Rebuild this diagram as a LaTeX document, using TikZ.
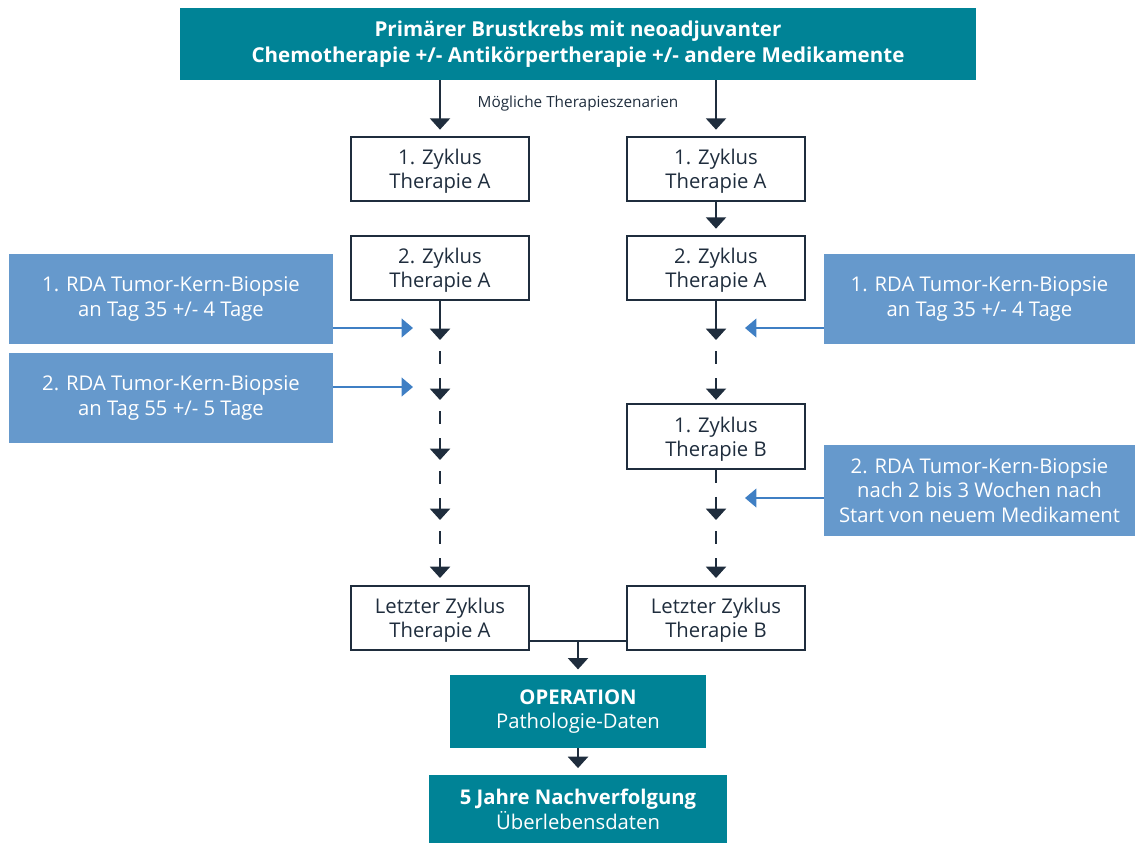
\documentclass[tikz,border=0pt]{standalone}
\usepackage{fontspec}
\setmainfont{Open Sans}
\usepackage{tikz}
\usetikzlibrary{arrows.meta, calc, positioning}
\definecolor{teal}{RGB}{0,131,150}
\definecolor{rdablue}{RGB}{102,153,204}
\definecolor{pointer}{RGB}{63,127,196}
\definecolor{navy}{RGB}{31,45,61}
\tikzstyle{head} = [rectangle, fill=teal, text=white, align=center, inner sep=0pt, font=\fontsize{15.4}{19.5}\selectfont\bfseries]
\tikzstyle{zyklus} = [rectangle, draw=navy, line width=1.5pt, text=navy, align=center, minimum width=134pt, minimum height=48.5pt, inner sep=0pt, text depth=0pt, font=\fontsize{15.2}{18.2}\selectfont]
\tikzstyle{rda} = [rectangle, fill=rdablue, text=white, align=center, minimum width=243pt, minimum height=67.5pt, inner sep=0pt, font=\fontsize{15.2}{18.2}\selectfont]
\tikzstyle{final} = [rectangle, fill=teal, text=white, align=center, inner sep=0pt, font=\fontsize{15.2}{18.5}\selectfont]
\tikzstyle{arrow} = [navy, line width=1.6pt, -{Triangle[width=15pt,length=8.5pt]}]
\tikzstyle{dasharrow} = [arrow, dash pattern=on 9.75pt off 10.5pt, dash phase=12pt]
\tikzstyle{biopsy} = [pointer, line width=1.3pt, -{Triangle[width=14pt,length=8.5pt]}]
\tikzstyle{junction} = [navy, line width=1.6pt]

\begin{document}
\begin{tikzpicture}[x=0.75pt, y=-0.75pt]
		\useasboundingbox (0,0) rectangle (1135,843);
		\node (Primary) [head, minimum width=597pt, minimum height=54pt] at (578,44) {Primärer Brustkrebs mit neoadjuvanter\\Chemotherapie +/- Antikörpertherapie +/- andere Medikamente};
		\node (Scenarios) [text=navy, font=\fontsize{11.5}{13}\selectfont] at (578,104) {Mögliche Therapieszenarien};
		\node (CycleOneA) [zyklus] at (440,169) {1. Zyklus\\Therapie A};
		\node (CycleOneB) [zyklus] at (716,169) {1. Zyklus\\Therapie A};
		\node (CycleTwoA) [zyklus] at (440,268) {2. Zyklus\\Therapie A};
		\node (CycleTwoB) [zyklus] at (716,268) {2. Zyklus\\Therapie A};
		\node (NewDrug) [zyklus] at (716,436.5) {1. Zyklus\\Therapie B};
		\node (LastA) [zyklus] at (440,618) {Letzter Zyklus\\Therapie A};
		\node (LastB) [zyklus] at (716,618) {Letzter Zyklus\\Therapie B};
		\node (RdaLeftOne) [rda] at (171,299) {1. RDA Tumor-Kern-Biopsie\\an Tag 35 +/- 4 Tage};
		\node (RdaLeftTwo) [rda] at (171,398) {2. RDA Tumor-Kern-Biopsie\\an Tag 55 +/- 5 Tage};
		\node (RdaRightOne) [rda, minimum width=233.25pt] at (979.5,299) {1. RDA Tumor-Kern-Biopsie\\an Tag 35 +/- 4 Tage};
		\node (RdaRightTwo) [rda, minimum width=233.25pt, minimum height=68.25pt] at (979.5,490.5) {2. RDA Tumor-Kern-Biopsie\\nach 2 bis 3 Wochen nach\\Start von neuem Medikament};
		\node (Operation) [final, minimum width=192pt, minimum height=54.75pt] at (578,711.5) {\textbf{OPERATION}\\Pathologie-Daten};
		\node (FollowUp) [final, minimum width=223.5pt, minimum height=51pt] at (578,809) {\textbf{5 Jahre Nachverfolgung}\\Überlebensdaten};
		\coordinate (TipA1) at (440,340);
		\coordinate (TipA2) at (440,400);
		\coordinate (TipA3) at (440,460);
		\coordinate (TipA4) at (440,520);
		\coordinate (TipB1) at (716,340);
		\coordinate (TipB2) at (716,520);
		\coordinate (InLeftOne) at (413,328);
		\coordinate (InLeftTwo) at (413,387);
		\coordinate (InRightOne) at (745,328);
		\coordinate (InRightTwo) at (745,498);
		\coordinate (Merge) at (578,641);
		\draw [arrow, shorten >=4.5pt] (Primary.south -| CycleOneA) -- (CycleOneA);
		\draw [arrow, shorten >=4.5pt] (Primary.south -| CycleOneB) -- (CycleOneB);
		\draw [arrow, shorten >=4.5pt] (CycleOneB) -- (CycleTwoB);
		\draw [arrow] (CycleTwoA) -- (TipA1);
		\draw [dasharrow] (TipA1) -- (TipA2);
		\draw [dasharrow] (TipA2) -- (TipA3);
		\draw [dasharrow] (TipA3) -- (TipA4);
		\draw [dasharrow, shorten >=5pt] (TipA4) -- (LastA);
		\draw [arrow] (CycleTwoB) -- (TipB1);
		\draw [dasharrow, shorten >=2.5pt] (TipB1) -- (NewDrug);
		\draw [dasharrow, dash phase=0pt] (NewDrug) -- (TipB2);
		\draw [dasharrow, shorten >=5pt] (TipB2) -- (LastB);
		\draw [biopsy] (RdaLeftOne.east |- InLeftOne) -- (InLeftOne);
		\draw [biopsy] (RdaLeftTwo.east |- InLeftTwo) -- (InLeftTwo);
		\draw [biopsy] (RdaRightOne.west |- InRightOne) -- (InRightOne);
		\draw [biopsy] (RdaRightTwo.west |- InRightTwo) -- (InRightTwo);
		\draw [junction] (LastA.east |- Merge) -- (LastB.west |- Merge);
		\draw [arrow, shorten >=4pt] (Merge) -- (Operation);
		\draw [arrow, shorten >=5pt] (Operation) -- (FollowUp);
		\end{tikzpicture}
\end{document}
